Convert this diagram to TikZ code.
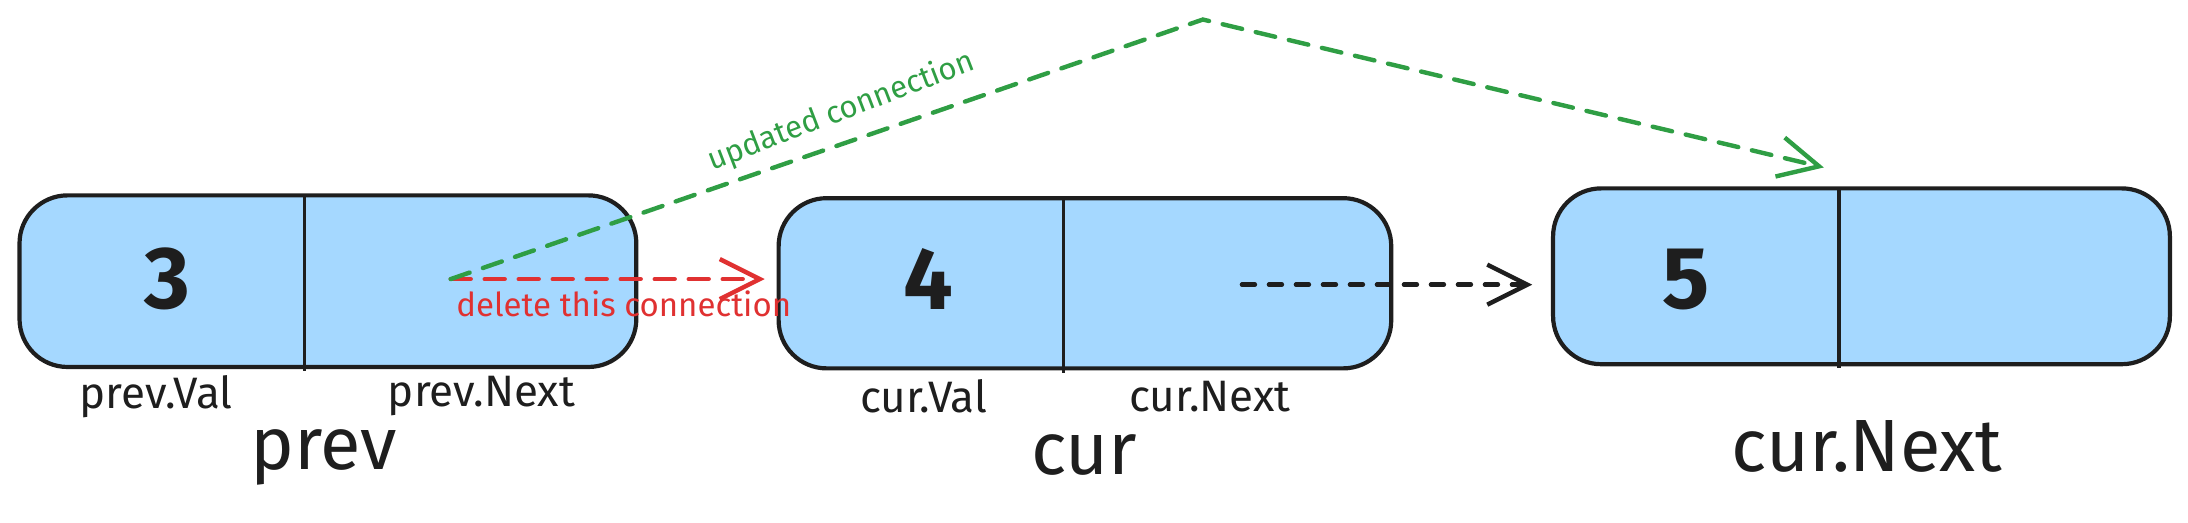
\documentclass[tikz,border=0pt]{standalone}
\usepackage{fontspec}
\setmainfont{Fira Sans}
\usetikzlibrary{arrows.meta}
\definecolor{boxfill}{HTML}{A5D8FF}
\definecolor{ink}{HTML}{1E1E1E}
\definecolor{redc}{HTML}{E03131}
\definecolor{greenc}{HTML}{2F9E44}
\tikzset{
  cell/.style={draw=ink, fill=boxfill, line width=4.2pt, rounded corners=48pt, inner sep=0pt},
  divider/.style={draw=ink, line width=3.4pt},
  val/.style={font=\fontsize{88}{88}\selectfont\bfseries, text=ink},
  lbl/.style={font=\fontsize{44}{44}\selectfont, text=ink},
  big/.style={font=\fontsize{74}{74}\selectfont, text=ink},
  link/.style={line width=4.4pt, line cap=round, dash pattern=on 20pt off 14pt,
    -{Straight Barb[length=40pt,width=40pt]}},
  shortdash/.style={dash pattern=on 13pt off 14pt}
}
\begin{document}
\begin{tikzpicture}[x=1.3954pt,y=-1.3954pt]
\useasboundingbox (0,0) rectangle (1568,374.1);
% boxes
\node[cell, minimum width=616.8pt, minimum height=171.6pt] (b1) at (235,201.5) {};
\node[cell, minimum width=612.6pt, minimum height=170.2pt] (b2) at (777.5,203) {};
\node[cell, minimum width=616.8pt, minimum height=175.8pt] (b3) at (1334,198) {};
\draw[divider] (218,140) -- (218,266);
\draw[divider] (762,142) -- (762,267);
\draw[divider] (1318,135) -- (1318,264);
% values
\node[val] (v1) at (120,200) {3};
\node[val] (v2) at (665,200) {4};
\node[val] (v3) at (1208,200) {5};
% labels
\node[lbl] (l1) at (112,284) {prev.Val};
\node[lbl] (l2) at (345,284) {prev.Next};
\node[lbl] (l3) at (662,284) {cur.Val};
\node[lbl] (l4) at (867,284) {cur.Next};
\node[big] (n1) at (232,328) {prev};
\node[big] (n2) at (777,326) {cur};
\node[big] (n3) at (1338,320) {cur.Next};
% connectors
\coordinate (p1) at (323,200);
\coordinate (apex) at (862,14);
\coordinate (t3) at (1307,120);
\coordinate (c1) at (890,204);
\coordinate (t2) at (548,200);
\coordinate (t4) at (1098,204);
\draw[link, draw=redc] (p1) -- (t2);
\draw[link, draw=greenc, line join=miter] (p1) -- (apex) -- (t3);
\draw[link, shortdash, draw=ink] (c1) -- (t4);
\node[text=redc, font=\fontsize{33}{33}\selectfont] (dl) at (447,218) {delete this connection};
\node[text=greenc, font=\fontsize{31}{31}\selectfont, rotate=21] (ul) at (603,80) {updated connection};
\end{tikzpicture}
\end{document}
